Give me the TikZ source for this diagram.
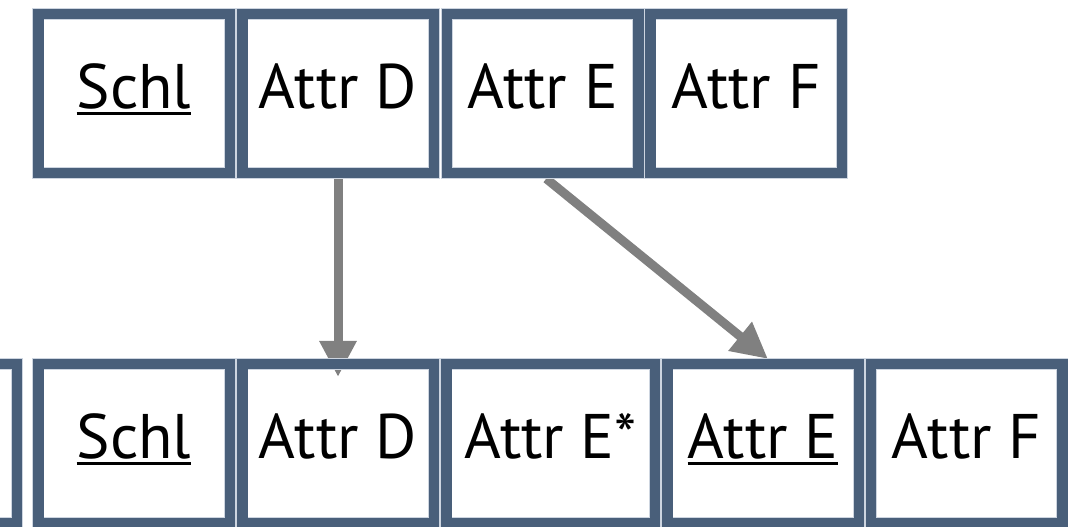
\documentclass[tikz,border=0pt]{standalone}
\usepackage{fontspec}
\setmainfont{PT Sans}
\usetikzlibrary{arrows.meta,backgrounds}
\definecolor{boxc}{RGB}{73,95,122}
\definecolor{rimc}{RGB}{205,213,224}
\definecolor{arrc}{RGB}{128,128,128}
\newcommand\keyul[1]{\setbox0\hbox{#1}\rlap{\rule[-3.6pt]{\wd0}{1.5pt}}\box0}
\tikzset{
 attrbox/.style={draw=boxc, line width=5.25pt, rectangle, inner sep=0pt,
   minimum width=95.75pt, text height=46.9pt, text depth=32.4pt,
   font=\fontsize{31.5}{37}\selectfont,
   preaction={draw=rimc, line width=6pt}},
 widebox/.style={attrbox, minimum width=104.25pt},
 flow/.style={draw=arrc, line width=4.5pt, -{Triangle[length=18pt,width=17.5pt]}},
}
\begin{document}
\begin{tikzpicture}[x=0.5pt,y=-0.5pt]
\useasboundingbox (0,0) rectangle (1080,526);
\clip (0,0) rectangle (1080,526);
% top row
\node[attrbox] (tS) at (134,93.5) {\keyul{Schl}};
\node[attrbox] (tD) at (338,93.5) {Attr D};
\node[attrbox] (tE) at (542.5,93.5) {Attr E};
\node[attrbox] (tF) at (746,93.5) {Attr F};
% bottom row
\node[attrbox] (bP) at (-79,443.5) {};
\node[attrbox] (bS) at (134,443.5) {\keyul{Schl}};
\node[attrbox] (bD) at (338,443.5) {Attr D};
\node[widebox] (bX) at (550.5,443.5) {Attr E*};
\node[attrbox] (bE) at (763,443.5) {\keyul{Attr E}};
\node[attrbox] (bF) at (966.5,443.5) {Attr F};
% connectors
\begin{scope}[on background layer]
\draw[flow, shorten <=0.5pt, shorten >=-9pt] (tD.south) -- (bD.north);
\draw[flow, shorten <=0.5pt] ([xshift=1.5pt]tE.south) -- ([xshift=2.5pt]bE.north);
\end{scope}
\end{tikzpicture}
\end{document}
